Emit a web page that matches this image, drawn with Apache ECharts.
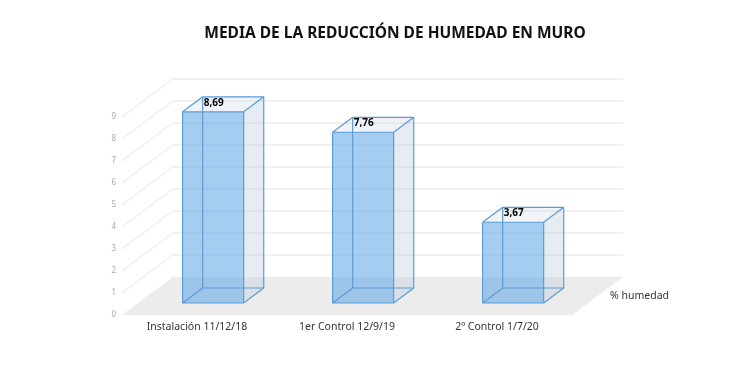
<!DOCTYPE html>
<html>
<head>
<meta charset="utf-8">
<script src="https://cdn.jsdelivr.net/npm/echarts@6/dist/echarts.min.js"></script>
<style>html,body{margin:0;padding:0;background:#fff}#c{width:750px;height:372px}</style>
</head>
<body>
<div id="c"></div>
<script>
const titleText = 'MEDIA DE LA REDUCCIÓN DE HUMEDAD EN MURO';
const categories = ['Instalación 11/12/18', '1er Control 12/9/19', '2º Control 1/7/20'];
const values = [8.69, 7.76, 3.67];
const valueLabels = ['8,69', '7,76', '3,67'];
const yTicks = [0, 1, 2, 3, 4, 5, 6, 7, 8, 9];
const seriesName = '% humedad';

// 3D look (pixel styling)
const DX = 51, DY = 38;          // full depth offset of the floor
const BAR_FRONT = 0.316, BAR_BACK = 0.71;
const BAR_RATIO = 0.407;
const FONT = 'Noto Sans';

const chart = echarts.init(document.getElementById('c'), null, {renderer: 'canvas'});

function renderDecor(params, api) {
  const cs = params.coordSys;
  const v = api.value(1);
  const y = api.coord([0, v])[1];
  const left = cs.x, right = cs.x + cs.width;
  const children = [];
  if (v === 0) {
    children.push({
      type: 'polygon',
      shape: {points: [[left, y], [right, y], [right + DX, y - DY], [left + DX, y - DY]]},
      style: {fill: '#ececec'}
    });
  } else {
    children.push({
      type: 'line',
      shape: {x1: left, y1: y, x2: left + DX, y2: y - DY},
      style: {stroke: '#eeeeee', lineWidth: 1.5}
    });
    children.push({
      type: 'line',
      shape: {x1: left + DX, y1: y - DY, x2: right + DX, y2: y - DY},
      style: {stroke: '#ececec', lineWidth: 1.5}
    });
  }
  return {type: 'group', children: children};
}

function renderBar(params, api) {
  const i = api.value(0);
  const v = api.value(1);
  const base = api.coord([i, 0]);
  const top = api.coord([i, v]);
  const w = api.size([1, 0])[0] * BAR_RATIO;
  const fx = DX * BAR_FRONT, fy = -DY * BAR_FRONT;
  const ox = DX * (BAR_BACK - BAR_FRONT), oy = -DY * (BAR_BACK - BAR_FRONT);
  const x0 = base[0] - w / 2 + fx, x1 = x0 + w;
  const yb = base[1] + fy, yt = top[1] + fy;
  const A = [x0, yt], B = [x1, yt], C = [x1, yb], D = [x0, yb];
  const A2 = [x0 + ox, yt + oy], B2 = [x1 + ox, yt + oy], C2 = [x1 + ox, yb + oy], D2 = [x0 + ox, yb + oy];
  const edge = {stroke: '#5b9bd5', lineWidth: 1.2};
  const line = (p, q) => ({type: 'line', shape: {x1: p[0], y1: p[1], x2: q[0], y2: q[1]}, style: edge});
  const children = [
    {type: 'polygon', shape: {points: [B, B2, C2, C]}, style: {fill: 'rgba(190,205,218,0.38)'}},
    {type: 'polygon', shape: {points: [A, A2, B2, B]}, style: {fill: 'rgba(200,215,235,0.28)'}},
    {type: 'polygon', shape: {points: [A, B, C, D]}, style: {fill: 'rgba(100,168,232,0.58)'}},
    line(A2, D2), line(D2, C2), line(A2, B2), line(B2, C2),
    line(A, A2), line(B, B2), line(C, C2), line(D, D2),
    line(A, B), line(B, C), line(C, D), line(D, A),
    {type: 'text', style: {text: valueLabels[params.dataIndex], x: A2[0] + 1, y: A2[1] + 1,
      fill: '#000', font: 'bold 10px "' + FONT + '"', textAlign: 'left', textVerticalAlign: 'top'}}
  ];
  return {type: 'group', children: children};
}

chart.setOption({
  animation: false,
  backgroundColor: '#fff',
  title: {
    text: titleText, left: 390, top: 21, textAlign: 'center',
    textStyle: {fontFamily: FONT, fontWeight: 'bold', fontSize: 15.5, color: '#111'}
  },
  grid: {left: 122, right: 178, top: 95, bottom: 57},
  xAxis: {
    type: 'category', data: categories,
    axisLine: {show: false}, axisTick: {show: false},
    axisLabel: {fontFamily: FONT, fontSize: 10.5, color: '#333', margin: 7}
  },
  yAxis: {
    type: 'value', min: 0, max: 10, interval: 1,
    axisLine: {show: false}, axisTick: {show: false}, splitLine: {show: false},
    axisLabel: {fontFamily: FONT, fontSize: 8, color: '#aaa', margin: 6,
      formatter: v => (yTicks.indexOf(v) >= 0 ? String(v) : '')}
  },
  graphic: [{
    type: 'text', left: 610, top: 291,
    style: {text: seriesName, fill: '#333', font: '10.5px "' + FONT + '"'}
  }],
  series: [
    {type: 'custom', name: 'decor', clip: false, silent: true, z: 1,
      data: yTicks.map(v => [0, v]), renderItem: renderDecor},
    {type: 'custom', name: seriesName, clip: false, z: 2,
      data: values.map((v, i) => [i, v]), renderItem: renderBar}
  ]
});
</script>
</body>
</html>
